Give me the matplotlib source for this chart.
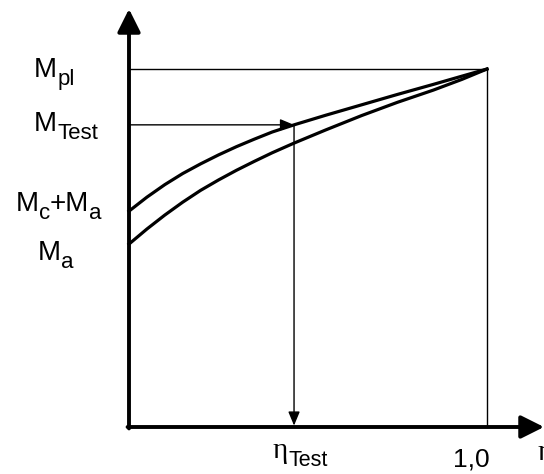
import matplotlib
matplotlib.use('Agg')
import matplotlib.pyplot as plt

plt.rcParams['font.family'] = ['Liberation Sans', 'DejaVu Sans']

# values (eta, M / M_pl)
eta = [0.0, 0.05, 0.10, 0.15, 0.20, 0.25, 0.30, 0.35, 0.40, 0.461,
       0.55, 0.65, 0.75, 0.85, 0.93, 1.0]
m_upper = [0.603, 0.642, 0.677, 0.708, 0.735, 0.760, 0.783, 0.804, 0.824, 0.844,
           0.871, 0.900, 0.929, 0.957, 0.980, 1.0]
m_lower = [0.511, 0.553, 0.592, 0.628, 0.661, 0.690, 0.717, 0.742, 0.766, 0.793,
           0.830, 0.870, 0.907, 0.941, 0.971, 1.0]

m_pl = 1.0
m_test = 0.844
eta_test = 0.461

fig = plt.figure(figsize=(5.44, 4.74), dpi=100)
ax = fig.add_axes([0, 0, 1, 1])
ax.set_xlim(-129 / 358, 415 / 358)
ax.set_ylim(-47 / 358, 427 / 358)
ax.axis('off')
renderer = fig.canvas.get_renderer()

# axes with arrow heads
big = dict(arrowstyle='-|>,head_length=0.7,head_width=0.35', lw=2.8,
           color='black', mutation_scale=20, shrinkA=0, shrinkB=0)
ax.annotate('', xy=(0, 418 / 358), xytext=(0, -0.004), arrowprops=big)
ax.annotate('', xy=(415 / 358, 0), xytext=(-0.004, 0), arrowprops=big)

# guide lines
small = dict(arrowstyle='-|>,head_length=0.6,head_width=0.25', lw=1.0,
             color='black', mutation_scale=14, shrinkA=0, shrinkB=0)
ax.plot([0, 1.0], [m_pl, m_pl], color='black', lw=1.0)
ax.plot([1.0, 1.0], [0, m_pl], color='black', lw=1.0)
ax.annotate('', xy=(eta_test, m_test), xytext=(0, m_test), arrowprops=small)
ax.annotate('', xy=(eta_test, 0.004), xytext=(eta_test, m_test), arrowprops=small)

# curves
ax.plot(eta, m_upper, color='black', lw=2.3, solid_joinstyle='round')
ax.plot(eta, m_lower, color='black', lw=2.3, solid_joinstyle='round')


def label(x, y, parts, fs=20, sub_fs=16, drop=5.5):
    # parts: list of (text, is_subscript, family)
    off = 0.0
    for txt, is_sub, fam in parts:
        t = ax.annotate(txt, xy=(x, y), xytext=(off, -drop if is_sub else 0),
                        textcoords='offset points', fontsize=sub_fs if is_sub else fs,
                        family=fam, ha='left', va='baseline')
        off += t.get_window_extent(renderer).width * 72 / fig.dpi


sans = 'Liberation Sans'
serif = 'Liberation Serif'
label(-0.265, 0.978, [('M', False, sans), ('pl', True, sans)])
label(-0.265, 0.827, [('M', False, sans), ('Test', True, sans)])
label(-0.316, 0.603, [('M', False, sans), ('c', True, sans), ('+M', False, sans), ('a', True, sans)])
label(-0.254, 0.466, [('M', False, sans), ('a', True, sans)])
label(0.402, -0.087, [('η', False, serif), ('Test', True, sans)], fs=21, sub_fs=15.5, drop=6)
ax.text(0.905, -0.110, '1,0', fontsize=19, ha='left', va='baseline')
ax.text(1.140, -0.092, 'η', fontsize=21, family=serif, ha='left', va='baseline')

fig.savefig('out.png', dpi=100)
